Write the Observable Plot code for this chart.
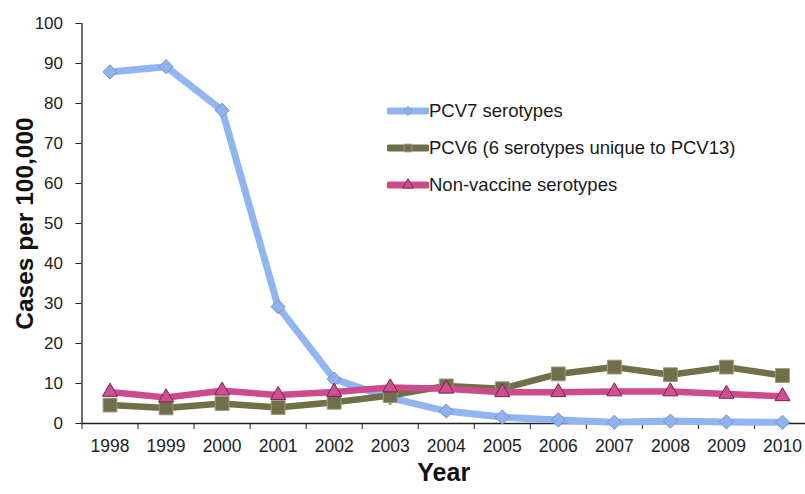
<!DOCTYPE html>
<html>
<head>
<meta charset="utf-8">
<script src="https://cdn.jsdelivr.net/npm/d3@7"></script>
<script src="https://cdn.jsdelivr.net/npm/@observablehq/plot@0.6"></script>
<style>
  html, body { margin: 0; padding: 0; background: #fff; }
  #wrap { position: relative; width: 805px; height: 494px; overflow: hidden; font-family: "Liberation Sans", Arial, sans-serif; }
  #legend { position: absolute; left: 387px; top: 92px; }
  .li { display: flex; align-items: center; height: 37px; font-size: 18.5px; color: #1a1a1a; }
  .li svg { margin-right: 0px; }
</style>
</head>
<body>
<div id="wrap"><div id="chart"></div><div id="legend"></div></div>
<script>
const years = [1998, 1999, 2000, 2001, 2002, 2003, 2004, 2005, 2006, 2007, 2008, 2009, 2010];
const pcv7 = [87.9, 89.2, 78.3, 29.2, 11.1, 6.4, 3.1, 1.6, 0.9, 0.3, 0.6, 0.4, 0.3];
const pcv6 = [4.6, 3.9, 5.0, 4.0, 5.3, 7.0, 9.4, 8.7, 12.4, 14.1, 12.2, 14.1, 12.0];
const nonVaccine = [7.9, 6.5, 8.2, 7.1, 7.9, 9.0, 8.7, 7.8, 7.8, 8.0, 8.0, 7.4, 6.8];
const seriesNames = ["PCV7 serotypes", "PCV6 (6 serotypes unique to PCV13)", "Non-vaccine serotypes"];
const yTicks = [0, 10, 20, 30, 40, 50, 60, 70, 80, 90, 100];

const styles = [
  {line: "#91b5f1", fill: "#8eb3ee", stroke: "#7a93b8", symbol: "diamond2", r: 6.4, width: 7, curve: "linear"},
  {line: "#706f48", fill: "#716f49", stroke: "#9c9a7c", symbol: "square", r: 7.8, width: 6.5, curve: "linear"},
  {line: "#cc4b8d", fill: "#cd5092", stroke: "#7d2250", symbol: "triangle", r: 5.6, width: 6.5, curve: "linear"}
];
const values = [pcv7, pcv6, nonVaccine];
const data = values.map((vals, i) => years.map((y, j) => ({year: y, value: vals[j], series: seriesNames[i]})));
const boundaries = years.map(y => y - 0.5).concat([years[years.length - 1] + 0.5]);

const marks = [
  Plot.ruleY([0], {stroke: "#222", strokeWidth: 1.3}),
  Plot.ruleX([boundaries[0]], {y1: 0, y2: 100, stroke: "#222", strokeWidth: 1.3}),
  Plot.axisY({ticks: yTicks, tickSize: 6, tickPadding: 13, fontSize: 17, color: "#222", stroke: "#222", label: null}),
  Plot.axisX({ticks: boundaries, tickSize: 6, tickFormat: () => "", stroke: "#222", label: null}),
  Plot.axisX({ticks: years, tickSize: 0, tickPadding: 16, tickFormat: d => String(d), fontSize: 17.5, fill: "#222", label: null})
];
data.forEach((d, i) => {
  const s = styles[i];
  marks.push(Plot.line(d, {x: "year", y: "value", stroke: s.line, strokeWidth: s.width, curve: s.curve, strokeLinejoin: "round"}));
  marks.push(Plot.dot(d, {x: "year", y: "value", symbol: () => s.symbol, r: s.r, fill: s.fill, stroke: s.stroke, strokeWidth: 1}));
});
marks.push(Plot.text(["Year"], {frameAnchor: "bottom", dy: 57, fontSize: 25, fontWeight: "bold", fill: "#111"}));
marks.push(Plot.text(["Cases per 100,000"], {frameAnchor: "left", textAnchor: "middle", dx: -57, rotate: -90, fontSize: 24.5, fontWeight: "bold", fill: "#111"}));

const chart = Plot.plot({
  width: 805,
  height: 494,
  marginLeft: 81.5,
  marginRight: 0,
  marginTop: 23,
  marginBottom: 71,
  style: {fontFamily: "Liberation Sans, Arial, sans-serif", background: "#fff", overflow: "hidden"},
  x: {type: "linear", domain: [boundaries[0], boundaries[boundaries.length - 1]], range: [81.5, 810]},
  y: {domain: [0, 100]},
  symbol: {type: "identity"},
  marks
});
document.getElementById("chart").appendChild(chart);

// legend
const legend = d3.select("#legend");
seriesNames.forEach((name, i) => {
  const s = styles[i];
  const row = legend.append("div").attr("class", "li");
  const svg = row.append("svg").attr("width", 42).attr("height", 16);
  svg.append("line").attr("x1", 2).attr("x2", 40).attr("y1", 8).attr("y2", 8)
    .attr("stroke", s.line).attr("stroke-width", 7).attr("stroke-linecap", "round");
  const sym = {diamond2: d3.symbolDiamond2, square: d3.symbolSquare, triangle: d3.symbolTriangle}[s.symbol];
  svg.append("path").attr("transform", "translate(21,8)")
    .attr("d", d3.symbol(sym, s.symbol === "square" ? 60 : 50)())
    .attr("fill", s.fill).attr("stroke", s.stroke).attr("stroke-width", 1);
  row.append("span").text(name);
});
</script>
</body>
</html>
